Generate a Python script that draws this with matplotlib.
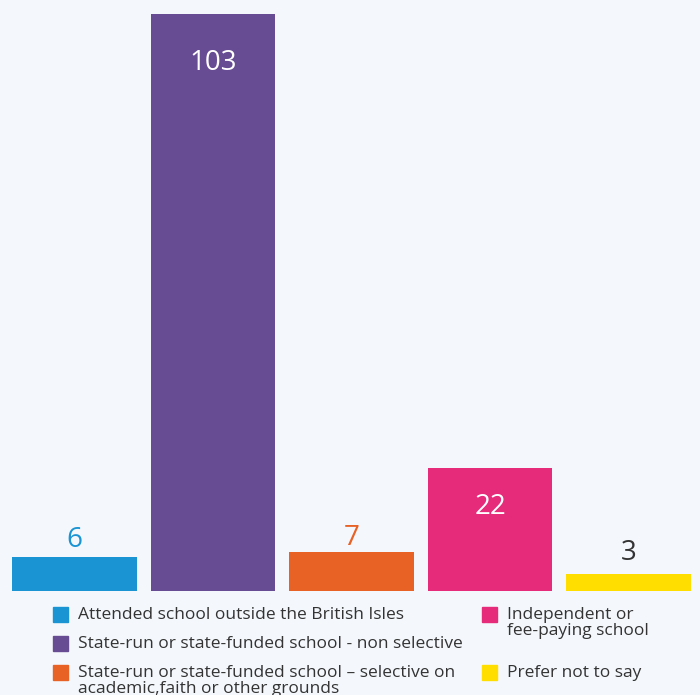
import matplotlib.pyplot as plt
from matplotlib.patches import Rectangle

# values
categories = ['Attended school outside the British Isles',
              'State-run or state-funded school - non selective',
              'State-run or state-funded school \u2013 selective on\nacademic,faith or other grounds',
              'Independent or\nfee-paying school',
              'Prefer not to say']
counts = [6, 103, 7, 22, 3]
colors = ['#1a94d2', '#674c94', '#e86125', '#e52b79', '#ffde00']
label_colors = ['#1a94d2', 'white', '#e86125', 'white', '#333333']
# vertical offset of value label from bar top, in pixels
label_offsets = [17, -49, 14, -39, 21]

bg = '#f4f8fc'
plt.rcParams['font.family'] = ['Open Sans', 'DejaVu Sans']

fig = plt.figure(figsize=(7, 6.95), dpi=100, facecolor=bg)
ax = fig.add_axes([5.25 / 700, 104 / 695, 692.5 / 700, 577 / 695])
ax.set_facecolor(bg)

x = range(len(counts))
ax.bar(x, counts, width=0.9, color=colors)
ax.set_xlim(-0.5, len(counts) - 0.5)
ax.set_ylim(0, 103)
ax.axis('off')

for i, v in enumerate(counts):
    ax.annotate(str(v), (i, v), xytext=(0, label_offsets[i] * 0.72), textcoords='offset points',
                ha='center', va='center', fontsize=20, color=label_colors[i])

# legend drawn by hand, two columns
W, H = 700, 695
legend_pos = [(53, 614), (53, 643), (53, 672), (482, 614), (482, 672)]
for i, (lx, ly) in enumerate(legend_pos):
    fig.patches.append(Rectangle((lx / W, 1 - (ly + 7.5) / H), 15 / W, 15 / H,
                                 transform=fig.transFigure, color=colors[i]))
    fig.text((lx + 25) / W, 1 - (ly - 7) / H, categories[i], ha='left', va='top',
             fontsize=12.5, color='#333333', linespacing=1.04)

plt.savefig('out.png', dpi=100, facecolor=bg)
